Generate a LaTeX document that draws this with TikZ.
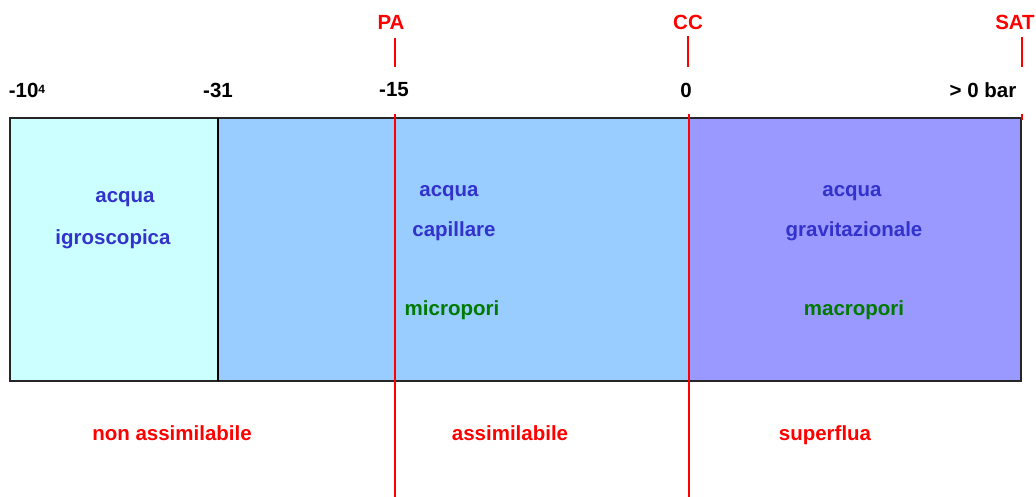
\documentclass[tikz,border=0pt]{standalone}
\usepackage{fontspec}
\setmainfont{Liberation Sans}
\begin{document}
\begin{tikzpicture}[x=1pt,y=-1pt,
  lbl/.style={font=\fontsize{20.5}{24}\selectfont\bfseries, inner sep=0pt, anchor=center},
  scalelbl/.style={lbl, text=black},
  marklbl/.style={lbl, text=red},
  waterlbl/.style={lbl, text=wblue},
  porelbl/.style={lbl, text=pgreen},
  uselbl/.style={lbl, text=red},
  redline/.style={draw=red, line width=2.5pt},
  redthin/.style={draw=red, line width=1.8pt},
]
\definecolor{wblue}{HTML}{3333CC}
\definecolor{pgreen}{HTML}{007A00}
\definecolor{zoneA}{HTML}{CCFFFF}
\definecolor{zoneB}{HTML}{99CCFF}
\definecolor{zoneC}{HTML}{9999FF}
\useasboundingbox (0,0) rectangle (1036,497);
% zones
\fill[zoneA] (10,118) rectangle (218,381);
\fill[zoneB] (218,118) rectangle (689,381);
\fill[zoneC] (689,118) rectangle (1021,381);
\draw[line width=1.6pt, draw=black!85] (10,118) rectangle (1021,381);
\draw[line width=2.6pt] (218,118) -- (218,381);
% scale labels
\node[scalelbl] (s1) at (27,90) {-10\raisebox{0.35ex}{\fontsize{12}{13}\selectfont 4}};
\node[scalelbl] (s2) at (218,90) {-31};
\node[scalelbl] (s3) at (394,90) {-15};
\node[scalelbl] (s4) at (686,90) {0};
\node[scalelbl] (s5) at (983,90) {> 0 bar};
% marks
\node[marklbl] (pa) at (391,22) {PA};
\node[marklbl] (cc) at (688,22) {CC};
\node[marklbl] (sat) at (1015,22) {SAT};
\coordinate (paT1) at (395,38); \coordinate (paT2) at (395,67);
\coordinate (ccT1) at (688,36); \coordinate (ccT2) at (688,67);
\coordinate (satT1) at (1022,37); \coordinate (satT2) at (1022,67);
\draw[redline] (paT1) -- (paT2);
\draw[redthin] (ccT1) -- (ccT2);
\draw[redline] (satT1) -- (satT2);
\coordinate (paL1) at (395,114); \coordinate (paL2) at (395,497);
\coordinate (ccL1) at (689,114); \coordinate (ccL2) at (689,497);
\coordinate (satL1) at (1022,114); \coordinate (satL2) at (1022,120);
\draw[redline] (paL1) -- (paL2);
\draw[redthin] (ccL1) -- (ccL2);
\draw[redline] (satL1) -- (satL2);
% zone texts
\node[waterlbl] (w1a) at (125,199) {acqua};
\node[waterlbl] (w1b) at (113,239) {igroscopica};
\node[waterlbl] (w2a) at (449,193) {acqua};
\node[waterlbl] (w2b) at (454,231) {capillare};
\node[porelbl]  (p2)  at (452,310) {micropori};
\node[waterlbl] (w3a) at (852,193) {acqua};
\node[waterlbl] (w3b) at (854,231) {gravitazionale};
\node[porelbl]  (p3)  at (854,310) {macropori};
% uses
\node[uselbl] (u1) at (172,433) {non assimilabile};
\node[uselbl] (u2) at (510,433) {assimilabile};
\node[uselbl] (u3) at (825,435) {superflua};
\end{tikzpicture}
\end{document}
